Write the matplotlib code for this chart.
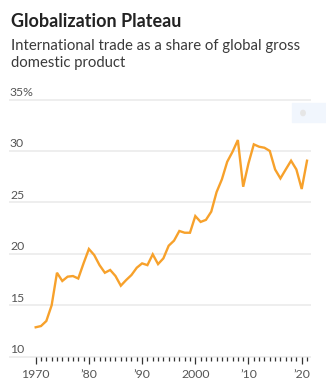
import matplotlib
matplotlib.use("Agg")
import matplotlib.pyplot as plt
import matplotlib.transforms as mtransforms
from matplotlib.patches import Rectangle, Circle

years = list(range(1970, 2022))
trade_share = [12.86, 12.98, 13.47, 15.0, 18.16, 17.36, 17.78, 17.84, 17.6, 19.08,
               20.47, 19.88, 18.9, 18.16, 18.43, 17.84, 16.9, 17.45, 17.94, 18.65,
               19.07, 18.9, 19.95, 19.0, 19.56, 20.79, 21.28, 22.22, 22.05, 22.05,
               23.67, 23.1, 23.3, 24.1, 26.0, 27.24, 28.95, 29.92, 31.06, 26.52,
               28.8, 30.64, 30.41, 30.31, 30.0, 28.2, 27.33, 28.2, 29.05, 28.2,
               26.3, 29.05]
y_ticks = [10, 15, 20, 25, 30, 35]
y_labels = ["10", "15", "20", "25", "30", "35%"]
x_major = [1970, 1980, 1990, 2000, 2010, 2020]
x_labels = ["1970", "\u201980", "\u201990", "2000", "\u201910", "\u201920"]

title = "Globalization Plateau"
subtitle = "International trade as a share of global gross\ndomestic product"

plt.rcParams['font.family'] = ['Lato', 'DejaVu Sans']

W, H = 326, 388
fig = plt.figure(figsize=(W / 100, H / 100), dpi=100)
fig.patch.set_facecolor("white")

left, right = 10 / W, 310 / W
bottom, top = (H - 356.7) / H, (H - 99.5) / H
ax = fig.add_axes([left, bottom, right - left, top - bottom])
ax.set_xlim(1965.17, 2021.56)
ax.set_ylim(10, 35)
for s in ax.spines.values():
    s.set_visible(False)

for yv in y_ticks:
    ax.axhline(yv, color="#eeeeee", lw=1.4, zorder=1, clip_on=False)

ax.plot(years, trade_share, color="#f7a12b", lw=1.7, zorder=3,
        solid_joinstyle="miter", clip_on=False)

ax.set_yticks([])
trans = mtransforms.blended_transform_factory(ax.transAxes, ax.transData)
for yv, lab in zip(y_ticks, y_labels):
    ax.text(0.0, yv + 0.15, lab, transform=trans, ha="left", va="bottom",
            fontsize=8.8, color="#555555")

ax.set_xticks(x_major)
ax.set_xticklabels(x_labels)
ax.set_xticks(years, minor=True)
ax.tick_params(axis="x", which="major", length=5, width=0.9, color="#333333",
               labelsize=8.8, labelcolor="#555555", pad=3.5)
ax.tick_params(axis="x", which="minor", length=3, width=0.9, color="#333333")
ax.tick_params(axis="y", length=0)

fig.text(11 / W, 1 - 27 / H, title, fontsize=13, fontweight="bold",
         color="#222222", ha="left", va="baseline")
fig.text(11 / W, 1 - 66.5 / H, subtitle, fontsize=10.7, color="#3a3a3a",
         ha="left", va="baseline", linespacing=1.2)

# faint overlay widget seen in the reference
fig.patches.append(Rectangle((292 / W, 1 - 122 / H), 34 / W, 19 / H,
                             transform=fig.transFigure, color="#f1f6fd",
                             zorder=0))
fig.patches.append(Circle((303 / W, 1 - 113 / H), 2.2 / W,
                          transform=fig.transFigure, color="#e6e6e6",
                          zorder=0))

fig.savefig("out.png", dpi=100)
